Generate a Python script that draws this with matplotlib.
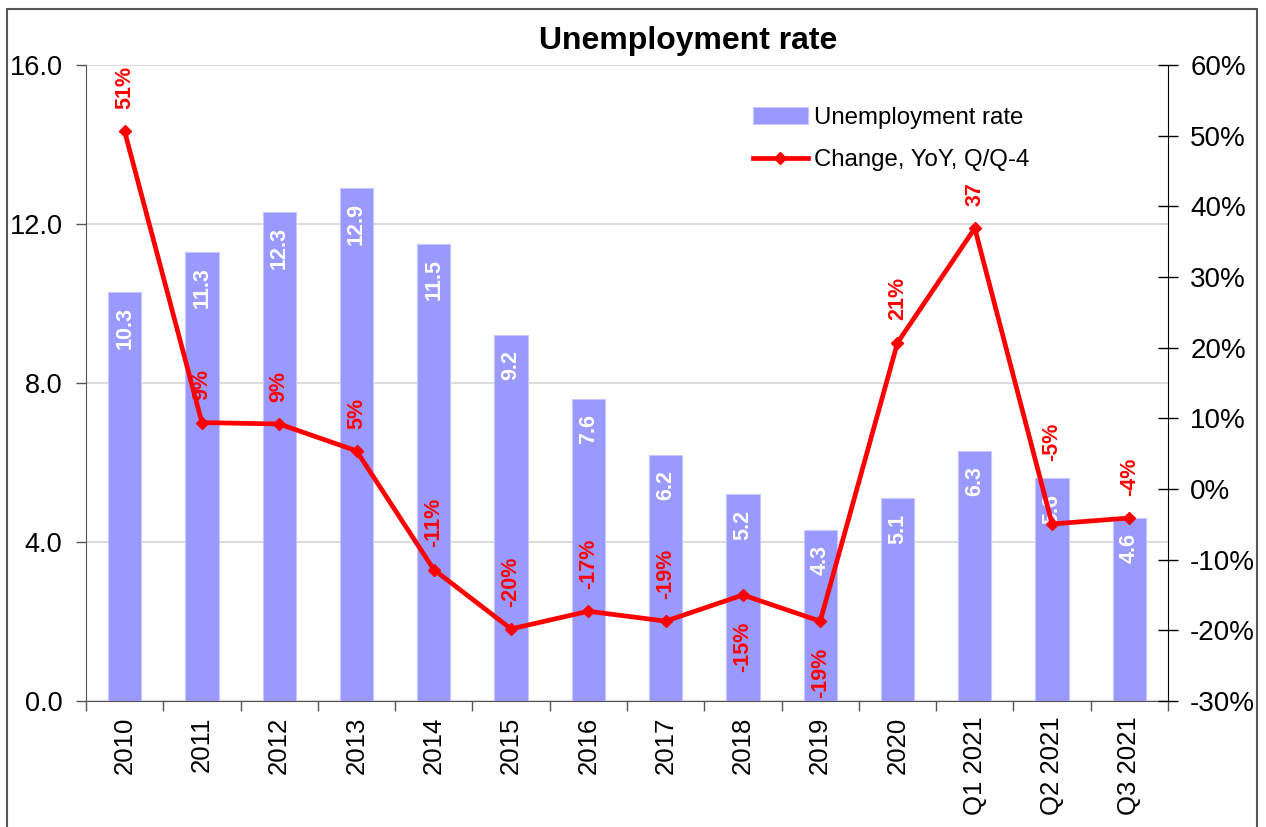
import matplotlib
matplotlib.use("Agg")
import matplotlib.pyplot as plt
from matplotlib.ticker import FixedLocator, FuncFormatter
from matplotlib.patches import Rectangle
import numpy as np

plt.rcParams['font.family'] = ['Liberation Sans', 'DejaVu Sans']

categories = ["2010", "2011", "2012", "2013", "2014", "2015", "2016", "2017",
              "2018", "2019", "2020", "Q1 2021", "Q2 2021", "Q3 2021"]
rate = [10.3, 11.3, 12.3, 12.9, 11.5, 9.2, 7.6, 6.2, 5.2, 4.3, 5.1, 6.3, 5.6, 4.6]
change = [50.6, 9.4, 9.2, 5.4, -11.4, -19.8, -17.3, -18.7, -15.0, -18.7,
          20.7, 36.9, -4.95, -4.1]
change_labels = ["51%", "9%", "9%", "5%", "-11%", "-20%", "-17%", "-19%",
                 "-15%", "-19%", "21%", "37", "-5%", "-4%"]

bar_color = "#9999FF"
line_color = "#FF0000"

# label offsets (points) for the line data labels
label_offsets = [16] * 8 + [-19, -19, 16, 16, 45, 16]

fig = plt.figure(figsize=(12.66, 8.27), dpi=100)
ax = fig.add_axes([86/1266, 1-701/827, (1168-86)/1266, (701-65)/827])
x = np.arange(len(categories))

ax.set_axisbelow(True)
bars = ax.bar(x, rate, width=0.43, color=bar_color, edgecolor="#C8C8FF",
              linewidth=0.8, zorder=2, label="Unemployment rate")
ax.set_ylim(0, 16)
ax.set_xlim(-0.5, len(categories) - 0.5)
ax.yaxis.set_major_locator(FixedLocator([0, 4, 8, 12, 16]))
ax.yaxis.set_major_formatter(FuncFormatter(lambda v, p: f"{v:.1f}"))
ax.grid(axis='y', color="#D6D6D6", linewidth=1.2)
ax.set_xticks(x)
ax.set_xticklabels(categories, rotation=90, fontsize=18.5)
ax.xaxis.set_minor_locator(FixedLocator(np.arange(-0.5, len(categories), 1.0)))
ax.tick_params(axis='x', which='major', length=0, pad=11)
ax.tick_params(axis='x', which='minor', length=7, width=1, color="#555555")
ax.tick_params(axis='y', which='major', length=7, width=1, labelsize=19.5,
               color="#555555", pad=10)
for s in ['top', 'right']:
    ax.spines[s].set_visible(False)
ax.spines['left'].set_color("#555555")
ax.spines['bottom'].set_color("#555555")

for xi, v in zip(x, rate):
    ax.text(xi, v - 0.38, f"{v:.1f}", rotation=90, ha='center', va='top',
            color='white', fontsize=15.5, fontweight='bold', zorder=3)

ax2 = ax.twinx()
ax2.set_ylim(-30, 60)
ax2.yaxis.set_major_locator(FixedLocator(np.arange(-30, 61, 10)))
ax2.yaxis.set_major_formatter(FuncFormatter(lambda v, p: f"{int(v)}%"))
ax2.tick_params(axis='y', direction='inout', length=14, width=1,
                labelsize=20, pad=9)
for s in ['top', 'left', 'bottom']:
    ax2.spines[s].set_visible(False)
ax2.spines['right'].set_color("black")

line, = ax2.plot(x, change, color=line_color, linewidth=3.4, marker='D',
                 markersize=6, zorder=4, label="Change, YoY, Q/Q-4")

for xi, v, lab, off in zip(x, change, change_labels, label_offsets):
    ax2.annotate(lab, (xi, v), xytext=(0, off), textcoords='offset points',
                 rotation=90, ha='center', va='top' if off < 0 else 'bottom',
                 color=line_color, fontsize=15.5, fontweight='bold', zorder=5)

leg = ax2.legend([bars, line], ["Unemployment rate", "Change, YoY, Q/Q-4"],
                 loc='upper left', bbox_to_anchor=(731/1266, 1-85/827),
                 bbox_transform=fig.transFigure, frameon=False, fontsize=17.3,
                 handlelength=2.3, handletextpad=0.25, labelspacing=0.85)

fig.text(688/1266, 1-41/827, "Unemployment rate", ha='center', va='center',
         fontsize=23, fontweight='bold')

fig.patches.append(Rectangle((7/1266, -0.05), (1257-7)/1266, 1.05 - 9/827,
                             transform=fig.transFigure, fill=False,
                             edgecolor="#555555", linewidth=1.5))

fig.savefig("out.png", dpi=100)
